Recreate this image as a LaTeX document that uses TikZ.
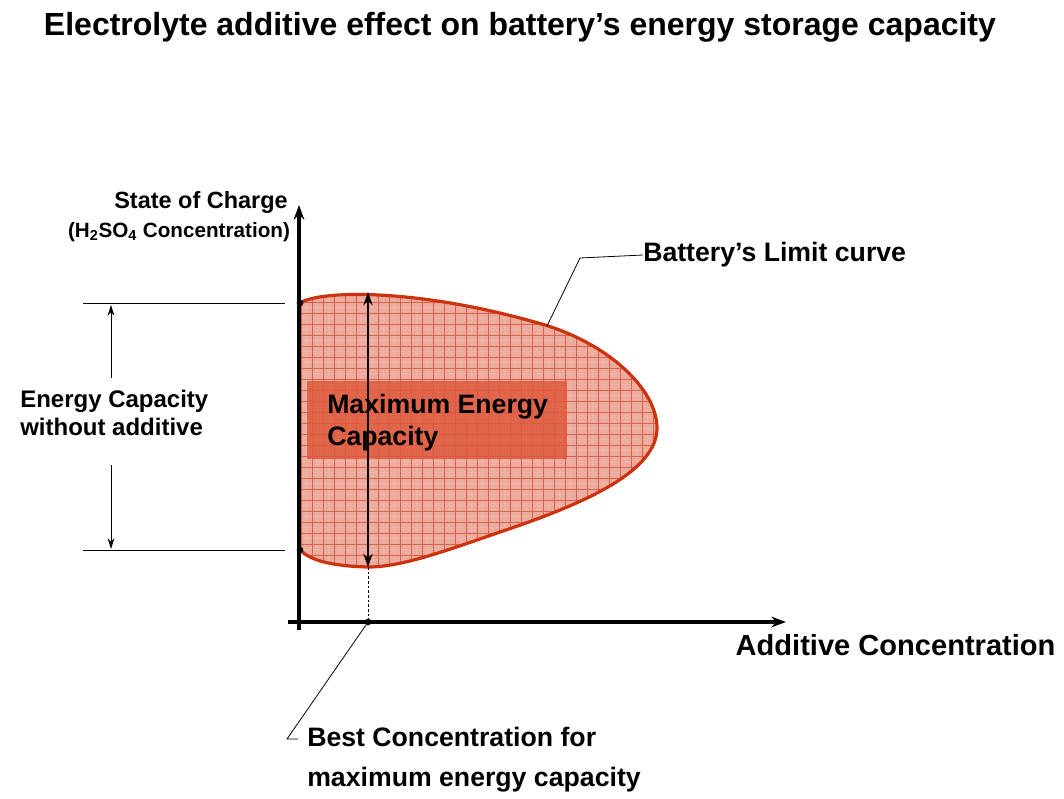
\documentclass[tikz,border=0pt]{standalone}
\usepackage{fontspec}
\setmainfont{Liberation Sans}
\usetikzlibrary{arrows.meta}
\definecolor{fillred}{RGB}{238,170,155}
\definecolor{gridred}{RGB}{205,70,45}
\definecolor{curvered}{RGB}{205,50,15}
\definecolor{boxred}{RGB}{222,90,60}
\begin{document}
\begin{tikzpicture}[x=0.75pt,y=-0.75pt,
  lbl/.style={font=\bfseries\fontsize{18}{21}\selectfont,inner sep=0pt},
  dotc/.style={circle,fill=black,inner sep=0pt,minimum size=5pt},
  thinl/.style={line width=0.6pt}]
\useasboundingbox (0,0) rectangle (1064,799);
\node[font=\bfseries\fontsize{24}{28}\selectfont] (title) at (520,27) {Electrolyte additive effect on battery’s energy storage capacity};
% region
\def\curve{(300,303) .. controls (320,290) and (420,288) .. (545,325) .. controls (610,345) and (657,390) .. (657,428) .. controls (657,470) and (590,502) .. (500,532) .. controls (440,553) and (400,567) .. (368,567) .. controls (330,566) and (310,560) .. (300,550)}
\fill[fillred] \curve -- cycle;
\begin{scope}
\clip \curve -- cycle;
\foreach \i in {0,...,70} {
  \draw[gridred!40,line width=0.2pt] (290+5.5*\i,280) -- (290+5.5*\i,580);
}
\foreach \i in {0,...,56} {
  \draw[gridred!40,line width=0.2pt] (290,280+5.5*\i) -- (670,280+5.5*\i);
}
\foreach \i in {0,...,35} {
  \draw[gridred!85,line width=0.35pt] (290+11*\i,280) -- (290+11*\i,580);
}
\foreach \i in {0,...,28} {
  \draw[gridred!85,line width=0.35pt] (290,280+11*\i) -- (670,280+11*\i);
}
\fill[boxred,opacity=0.85] (307,381) rectangle (567,459);
\end{scope}
\draw[curvered,line width=2.4pt] \curve;
\node[lbl,font=\bfseries\fontsize{20}{24}\selectfont,align=left,anchor=west] (maxe) at (327,423) {Maximum Energy\\Capacity};
% axes
\coordinate (ytop) at (299,205);
\coordinate (ybot) at (299,630);
\coordinate (xl) at (288,622);
\coordinate (xr) at (786,622);
\draw[line width=2.6pt,-{Stealth[length=11pt,width=8pt]}] (ybot) -- (ytop);
\draw[line width=2.6pt,-{Stealth[length=11pt,width=8pt]}] (xl) -- (xr);
\node[dotc] (d1) at (300,303) {};
\node[dotc] (d2) at (300,550) {};
\node[dotc] (d3) at (368,622) {};
\coordinate (top) at (368,292);
\coordinate (bot) at (368,567);
\draw[line width=1.4pt,{Stealth[length=10pt,width=7pt]}-{Stealth[length=10pt,width=7pt]}] (bot) -- (top);
\draw[thinl,dash pattern=on 2pt off 1.5pt] (bot) -- (d3);
% left dimension
\coordinate (h1) at (83,303); \coordinate (h1e) at (285,303);
\coordinate (h2) at (83,550); \coordinate (h2e) at (285,550);
\draw[thinl] (h1) -- (h1e); \draw[thinl] (h2) -- (h2e);
\coordinate (a1) at (111,378); \coordinate (a1t) at (111,305);
\coordinate (a2) at (111,465); \coordinate (a2t) at (111,549);
\draw[thinl,-{Stealth[length=8pt,width=5pt]}] (a1) -- (a1t);
\draw[thinl,-{Stealth[length=8pt,width=5pt]}] (a2) -- (a2t);
\node[lbl,align=left,anchor=west] (ecap) at (20,413) {Energy Capacity\\without additive};
% labels
\node[font=\bfseries\fontsize{17.6}{21}\selectfont] (soc) at (201,202) {State of Charge};
\node[font=\bfseries\fontsize{15.5}{18}\selectfont] (h2so4) at (179,232) {(H\textsubscript{2}SO\textsubscript{4} Concentration)};
\node[font=\bfseries\fontsize{21.8}{25}\selectfont,anchor=west] (addc) at (731,645) {Additive Concentration};
\node[lbl,font=\bfseries\fontsize{20}{24}\selectfont,anchor=west] (blc) at (643,255) {Battery’s Limit curve};
\coordinate (b1) at (547,326); \coordinate (b2) at (580,258);
\draw[thinl] (b1) -- (b2) -- (blc.west);
\node[lbl,font=\bfseries\fontsize{20}{30}\selectfont,align=left,anchor=north west] (best) at (307,727) {Best Concentration for\\maximum energy capacity};
\coordinate (c1) at (287,739); \coordinate (c2) at (298,739);
\draw[thinl] (d3) -- (c1) -- (c2);
\end{tikzpicture}
\end{document}
